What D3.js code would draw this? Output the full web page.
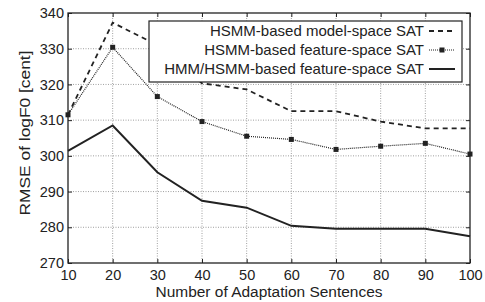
<!DOCTYPE html>
<html>
<head>
<meta charset="utf-8">
<script src="https://cdn.jsdelivr.net/npm/d3@7"></script>
<style>
  body { margin: 0; background: #fff; }
  text { font-family: "Liberation Sans", Arial, sans-serif; fill: #222; }
</style>
</head>
<body>
<svg id="chart" width="485" height="302"></svg>
<script>
// number of adaptation sentences
const sentences = [10, 20, 30, 40, 50, 60, 70, 80, 90, 100];
// RMSE of logF0 [cent]
const modelSpace   = [311.5, 337.3, 331.0, 320.3, 318.6, 312.5, 312.5, 309.6, 307.7, 307.7];
const featureSpace = [311.5, 330.4, 316.6, 309.6, 305.5, 304.6, 301.8, 302.7, 303.5, 300.5];
const hmmHsmm      = [301.4, 308.5, 295.4, 287.4, 285.5, 280.4, 279.6, 279.6, 279.6, 277.5];
const seriesNames = ["HSMM-based model-space SAT", "HSMM-based feature-space SAT", "HMM/HSMM-based feature-space SAT"];
const yTicks = [270, 280, 290, 300, 310, 320, 330, 340];

const svg = d3.select("#chart");
const m = {left: 68, right: 470, top: 13, bottom: 263};

const x = d3.scaleLinear().domain([10, 100]).range([m.left, m.right]);
const y = d3.scaleLinear().domain([270, 340]).range([m.bottom, m.top]);

// grid
const grid = svg.append("g").attr("stroke", "#888").attr("stroke-width", 0.8).attr("stroke-dasharray", "1,1.5");
grid.selectAll(".gx").data(sentences.slice(1, -1)).enter().append("line")
    .attr("x1", d => x(d)).attr("x2", d => x(d)).attr("y1", m.top).attr("y2", m.bottom);
grid.selectAll(".gy").data(yTicks.slice(1, -1)).enter().append("line")
    .attr("y1", d => y(d)).attr("y2", d => y(d)).attr("x1", m.left).attr("x2", m.right);

// axes (ticks point inward)
const tickLen = 4;
svg.append("g").attr("transform", `translate(0,${m.bottom})`)
    .call(d3.axisBottom(x).tickValues(sentences).tickSize(-tickLen).tickPadding(7))
    .call(g => g.select(".domain").remove())
    .selectAll("text").attr("font-size", 14.5).attr("fill", "#222");
svg.append("g").attr("transform", `translate(0,${m.top})`)
    .call(d3.axisTop(x).tickValues(sentences).tickSize(-tickLen).tickFormat(""))
    .call(g => g.select(".domain").remove());
svg.append("g").attr("transform", `translate(${m.left},0)`)
    .call(d3.axisLeft(y).tickValues(yTicks).tickSize(-tickLen).tickPadding(4))
    .call(g => g.select(".domain").remove())
    .selectAll("text").attr("font-size", 14.5).attr("fill", "#222");
svg.append("g").attr("transform", `translate(${m.right},0)`)
    .call(d3.axisRight(y).tickValues(yTicks).tickSize(-tickLen).tickFormat(""))
    .call(g => g.select(".domain").remove());
svg.selectAll(".tick line").attr("stroke", "#222");

// frame
svg.append("rect").attr("x", m.left).attr("y", m.top)
    .attr("width", m.right - m.left).attr("height", m.bottom - m.top)
    .attr("fill", "none").attr("stroke", "#222").attr("stroke-width", 1.3);

// lines
const line = d3.line().x((d, i) => x(sentences[i])).y(d => y(d));
svg.append("path").datum(modelSpace).attr("d", line)
    .attr("fill", "none").attr("stroke", "#222").attr("stroke-width", 1.8).attr("stroke-dasharray", "5,4");
svg.append("path").datum(featureSpace).attr("d", line)
    .attr("fill", "none").attr("stroke", "#222").attr("stroke-width", 1.2).attr("stroke-dasharray", "1,1");
svg.selectAll(".mk").data(featureSpace).enter().append("rect")
    .attr("x", (d, i) => x(sentences[i]) - 2.5).attr("y", d => y(d) - 2.5)
    .attr("width", 5).attr("height", 5).attr("fill", "#222");
svg.append("path").datum(hmmHsmm).attr("d", line)
    .attr("fill", "none").attr("stroke", "#222").attr("stroke-width", 2);

// legend
const lg = svg.append("g");
lg.append("rect").attr("x", 149).attr("y", 21).attr("width", 313).attr("height", 61)
    .attr("fill", "#fff").attr("stroke", "#222").attr("stroke-width", 1.2);
const rowY = [31, 50, 69];
const styles = [
  {dash: "5,4", w: 1.8, mk: false},
  {dash: "1,1", w: 1.2, mk: true},
  {dash: null, w: 2, mk: false}
];
seriesNames.forEach((name, i) => {
  lg.append("text").attr("x", 424).attr("y", rowY[i]).attr("dy", "0.35em")
    .attr("text-anchor", "end").attr("font-size", 15).text(name);
  lg.append("line").attr("x1", 429).attr("x2", 455).attr("y1", rowY[i]).attr("y2", rowY[i])
    .attr("stroke", "#222").attr("stroke-width", styles[i].w)
    .attr("stroke-dasharray", styles[i].dash);
  if (styles[i].mk) {
    lg.append("rect").attr("x", 439.5).attr("y", rowY[i] - 2.5).attr("width", 5).attr("height", 5).attr("fill", "#222");
  }
});

// axis titles
svg.append("text").attr("x", (m.left + m.right) / 2).attr("y", 297)
    .attr("text-anchor", "middle").attr("font-size", 14)
    .attr("textLength", 227).attr("lengthAdjust", "spacingAndGlyphs")
    .text("Number of Adaptation Sentences");
svg.append("text").attr("transform", "translate(30,133) rotate(-90)")
    .attr("text-anchor", "middle").attr("font-size", 14)
    .attr("textLength", 165).attr("lengthAdjust", "spacingAndGlyphs")
    .text("RMSE of logF0 [cent]");
</script>
</body>
</html>
